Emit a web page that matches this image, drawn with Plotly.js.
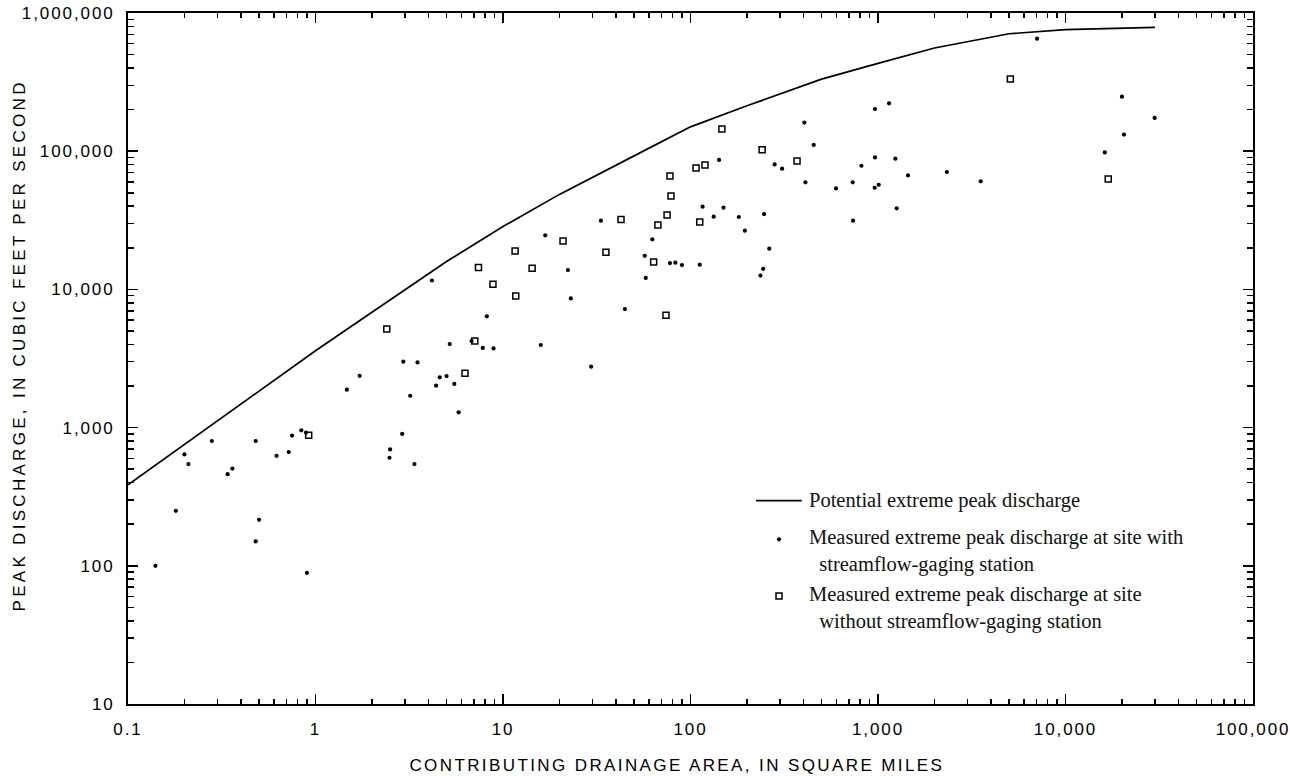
<!DOCTYPE html>
<html>
<head>
<meta charset="utf-8">
<script src="https://cdn.plot.ly/plotly-3.0.1.min.js"></script>
<style>
html, body { margin: 0; padding: 0; background: #fff; }
#chart { width: 1290px; height: 776px; }
.xtick text, .ytick text { letter-spacing: 1.9px; }
.annotation[data-index="3"] text { letter-spacing: 2.4px; }
.annotation[data-index="4"] text { letter-spacing: 3.3px; }
</style>
</head>
<body>
<div id="chart"></div>
<script>
// Potential extreme peak discharge (envelope curve)
var envelopeArea = [0.1, 1, 2, 5, 10, 20, 50, 100, 200, 500, 1000, 2000, 5000, 10000, 30000];
var envelopePeak = [385, 3600, 6830, 15900, 28500, 48700, 92500, 150000, 213000, 332000, 432000, 558000, 708000, 757000, 787000];

// Measured extreme peak discharge at sites with streamflow-gaging station
var gagedArea = [0.14, 0.18, 0.2, 0.21, 0.28, 0.34, 0.36, 0.48, 0.48, 0.5, 0.62, 0.72, 0.75, 0.84, 0.89, 0.9,
  1.47, 1.72, 2.48, 2.5, 2.9, 2.94, 3.2, 3.37, 3.5, 4.18, 4.4, 4.6, 5.0, 5.2, 5.5, 5.8, 6.8, 7.8, 8.2, 8.9,
  15.9, 16.8, 22.2, 23, 29.5, 33.3, 44.7, 57, 57.7, 62.6, 77.7, 83, 90, 112, 116, 133, 142, 150, 181, 195,
  236, 244, 247, 263, 281, 308, 405, 410, 454, 597, 733, 736, 816, 960, 964, 964, 1009, 1145, 1238, 1258,
  1445, 2330, 3530, 7050, 16200, 20000, 20500, 29900];
var gagedPeak = [100, 250, 640, 545, 800, 460, 505, 800, 150, 215, 625, 665, 875, 955, 920, 89,
  1880, 2370, 605, 695, 900, 3000, 1700, 545, 2960, 11600, 2010, 2310, 2360, 4020, 2070, 1290, 4230, 3770, 6380, 3740,
  3960, 24600, 13800, 8600, 2760, 31400, 7200, 17500, 12100, 23000, 15500, 15600, 15000, 15100, 39700, 33600, 86400, 39000, 33400, 26600,
  12600, 14100, 35100, 19700, 80200, 74700, 161000, 59500, 111000, 53800, 59500, 31400, 78500, 54400, 90200, 202000, 57200, 222000, 88300, 38600,
  66800, 70700, 60500, 652000, 98000, 248000, 132000, 174000];

// Measured extreme peak discharge at sites without streamflow-gaging station
var ungagedArea = [0.92, 2.4, 6.27, 7.07, 7.4, 8.84, 11.6, 11.7, 14.3, 20.9, 35.4, 42.6, 63.6, 67, 74, 75,
  77.7, 78.7, 107, 112, 119.5, 147, 241, 370, 5080, 16900];
var ungagedPeak = [880, 5170, 2470, 4230, 14400, 10900, 19000, 8960, 14200, 22400, 18600, 32100, 15800, 29200, 6490, 34500,
  66100, 47400, 75600, 30700, 79500, 145000, 102500, 85000, 333000, 62900];

// Axis tick labels and titles
var xTickVals = [0.1, 1, 10, 100, 1000, 10000, 100000];
var xTickText = ['0.1', '1', '10', '100', '1,000', '10,000', '100,000'];
var yTickVals = [10, 100, 1000, 10000, 100000, 1000000];
var yTickText = ['10', '100', '1,000', '10,000', '100,000', '1,000,000'];
var xTitle = 'CONTRIBUTING DRAINAGE AREA, IN SQUARE MILES';
var yTitle = 'PEAK DISCHARGE, IN CUBIC FEET PER SECOND';

// Legend texts
var legendLine = 'Potential extreme peak discharge';
var legendGaged = ['Measured extreme peak discharge at site with', 'streamflow-gaging station'];
var legendUngaged = ['Measured extreme peak discharge at site', 'without streamflow-gaging station'];

function minorTicks(e0, e1) {
  var out = [];
  for (var e = e0; e < e1; e++) {
    for (var d = 2; d <= 9; d++) out.push(d * Math.pow(10, e));
  }
  return out;
}

var W = 1290, H = 776;
var M = { l: 128, r: 37, t: 13, b: 72 };
var PW = W - M.l - M.r, PH = H - M.t - M.b;
function xp(px) { return (px - M.l) / PW; }
function yp(py) { return (H - M.b - py) / PH; }

var sansFont = 'Liberation Sans, Arial, Helvetica, sans-serif';
var serifFont = 'Liberation Serif, Times New Roman, serif';

var traces = [
  {
    x: envelopeArea, y: envelopePeak, type: 'scatter', mode: 'lines',
    line: { color: '#000', width: 1.7 }, name: legendLine
  },
  {
    x: gagedArea, y: gagedPeak, type: 'scatter', mode: 'markers',
    marker: { symbol: 'circle', size: 4.2, color: '#000', line: { width: 0 } },
    name: legendGaged.join(' ')
  },
  {
    x: ungagedArea, y: ungagedPeak, type: 'scatter', mode: 'markers',
    marker: { symbol: 'square-open', size: 6, color: '#000', line: { color: '#000', width: 1.5 } },
    name: legendUngaged.join(' ')
  }
];

var axisCommon = {
  type: 'log',
  ticks: 'inside', ticklen: 10, tickwidth: 1.5, tickcolor: '#000',
  showline: true, linewidth: 2, linecolor: '#000', mirror: 'ticks',
  showgrid: false, zeroline: false, automargin: false,
  ticklabeloverflow: 'allow',
  tickfont: { family: sansFont, size: 17, color: '#000' }
};

var legendAnn = [
  { text: legendLine, px: 809, py: 502.5 },
  { text: legendGaged[0] + '<br>\u00a0\u00a0' + legendGaged[1], px: 809, py: 539.5 },
  { text: legendUngaged[0] + '<br>\u00a0\u00a0' + legendUngaged[1], px: 809, py: 596.5 }
].map(function (a) {
  // py is the vertical centre of the first text line
  return {
    text: a.text, xref: 'paper', yref: 'paper', x: xp(a.px), y: yp(a.py - 13.3),
    xanchor: 'left', yanchor: 'top', align: 'left', showarrow: false,
    borderpad: 0, borderwidth: 0,
    font: { family: serifFont, size: 20.5, color: '#111' }
  };
});

var titleAnn = [
  { text: xTitle, xref: 'paper', yref: 'paper', x: xp(677), y: yp(765), xanchor: 'center', yanchor: 'middle',
    showarrow: false, borderpad: 0, borderwidth: 0, font: { family: sansFont, size: 17, color: '#000' } },
  { text: yTitle, xref: 'paper', yref: 'paper', x: xp(19), y: yp(345.5), xanchor: 'center', yanchor: 'middle',
    textangle: -90, showarrow: false, borderpad: 0, borderwidth: 0, font: { family: sansFont, size: 17, color: '#000' } }
];

var layout = {
  width: W, height: H,
  margin: M,
  paper_bgcolor: '#fff', plot_bgcolor: '#fff',
  showlegend: false,
  xaxis: Object.assign({}, axisCommon, {
    range: [-1, 5],
    tickmode: 'array', tickvals: xTickVals, ticktext: xTickText,
    ticklabelstandoff: 9,
    minor: { tickmode: 'array', tickvals: minorTicks(-1, 5), ticks: 'inside', ticklen: 5, tickwidth: 1.5, tickcolor: '#000', showgrid: false }
  }),
  yaxis: Object.assign({}, axisCommon, {
    range: [1, 6],
    tickmode: 'array', tickvals: yTickVals, ticktext: yTickText,
    ticklabelstandoff: 8,
    minor: { tickmode: 'array', tickvals: minorTicks(1, 6), ticks: 'inside', ticklen: 6, tickwidth: 1.5, tickcolor: '#000', showgrid: false }
  }),
  shapes: [
    { type: 'line', xref: 'paper', yref: 'paper', x0: xp(756), x1: xp(801.7), y0: yp(500.7), y1: yp(500.7), line: { color: '#000', width: 1.7 } },
    { type: 'circle', xref: 'paper', yref: 'paper', xsizemode: 'pixel', ysizemode: 'pixel', xanchor: xp(779), yanchor: yp(539.3),
      x0: -2.1, x1: 2.1, y0: -2.1, y1: 2.1, fillcolor: '#000', line: { width: 0 } },
    { type: 'rect', xref: 'paper', yref: 'paper', xsizemode: 'pixel', ysizemode: 'pixel', xanchor: xp(779), yanchor: yp(596),
      x0: -3, x1: 3, y0: -3, y1: 3, fillcolor: 'rgba(0,0,0,0)', line: { color: '#000', width: 1.5 } }
  ],
  annotations: legendAnn.concat(titleAnn)
};

Plotly.newPlot('chart', traces, layout, { displayModeBar: false, staticPlot: true });
</script>
</body>
</html>
